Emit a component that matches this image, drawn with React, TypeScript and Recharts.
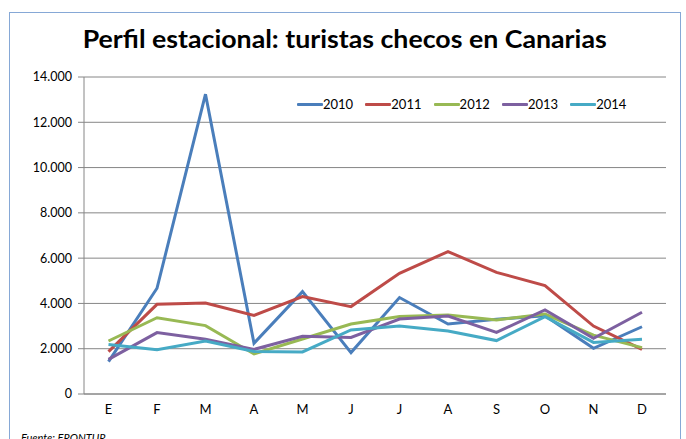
import { LineChart, Line, XAxis, YAxis, CartesianGrid, Legend } from 'recharts';

// Monthly Czech tourists in the Canary Islands
const months = ['E', 'F', 'M', 'A', 'M', 'J', 'J', 'A', 'S', 'O', 'N', 'D'];
const tourists2010 = [1430, 4670, 13240, 2240, 4520, 1830, 4260, 3090, 3300, 3460, 2020, 2970];
const tourists2011 = [1870, 3960, 4020, 3470, 4300, 3860, 5330, 6290, 5370, 4790, 3000, 1970];
const tourists2012 = [2340, 3370, 3020, 1770, 2430, 3090, 3420, 3490, 3270, 3530, 2600, 2050];
const tourists2013 = [1530, 2710, 2420, 1970, 2550, 2500, 3310, 3440, 2720, 3710, 2460, 3610];
const tourists2014 = [2190, 1960, 2340, 1880, 1860, 2830, 3000, 2780, 2360, 3420, 2280, 2420];
const yTicks = [0, 2000, 4000, 6000, 8000, 10000, 12000, 14000];

const series = [
  { key: 'y2010', name: '2010', color: '#4A7EBB', values: tourists2010 },
  { key: 'y2011', name: '2011', color: '#BE4B48', values: tourists2011 },
  { key: 'y2012', name: '2012', color: '#98B954', values: tourists2012 },
  { key: 'y2013', name: '2013', color: '#7D60A0', values: tourists2013 },
  { key: 'y2014', name: '2014', color: '#46AAC5', values: tourists2014 },
];

const data = months.map((month, i) => {
  const row: Record<string, string | number> = { month };
  series.forEach((s) => {
    row[s.key] = s.values[i];
  });
  return row;
});

const FONT = 'Lato, "Open Sans", sans-serif';
const GRID = '#868686';

const formatThousands = (v: number) => String(v).replace(/\B(?=(\d{3})+(?!\d))/g, '.');

function LegendRow() {
  return (
    <div style={{ display: 'flex', alignItems: 'center', fontFamily: FONT, fontSize: 13, color: '#000' }}>
      {series.map((s) => (
        <div key={s.key} style={{ display: 'flex', alignItems: 'center', width: 68.3 }}>
          <div style={{ width: 26, height: 3, backgroundColor: s.color, borderRadius: 1 }} />
          <span style={{ lineHeight: '16px' }}>{s.name}</span>
        </div>
      ))}
    </div>
  );
}

export default function App() {
  return (
    <div
      style={{
        position: 'fixed',
        left: 0,
        top: 0,
        width: 686,
        height: 439,
        overflow: 'hidden',
        background: '#fff',
      }}
    >
      {/* chart frame */}
      <div
        style={{
          position: 'absolute',
          left: 9,
          top: 12,
          width: 670,
          height: 460,
          border: '1px solid #86A8D6',
        }}
      />

      <LineChart
        width={686}
        height={439}
        data={data}
        margin={{ top: 77, right: 20, bottom: 15, left: 0 }}
        style={{ position: 'absolute', left: 0, top: 0 }}
      >
        <CartesianGrid vertical={false} stroke={GRID} strokeWidth={1} />
        <XAxis
          dataKey="month"
          height={30}
          padding={{ left: 24.5, right: 24 }}
          axisLine={{ stroke: GRID }}
          tickLine={false}
          tickSize={0}
          tickMargin={11}
          tick={{ fill: '#000', fontSize: 13, fontFamily: FONT }}
          interval={0}
        />
        <YAxis
          width={84}
          domain={[0, 14000]}
          ticks={yTicks}
          interval={0}
          tickFormatter={formatThousands}
          axisLine={{ stroke: GRID }}
          tickLine={{ stroke: GRID }}
          tickSize={6}
          tickMargin={6}
          tick={{ fill: '#000', fontSize: 12.5, fontFamily: FONT }}
        />
        <Legend
          layout="vertical"
          verticalAlign="middle"
          align="center"
          wrapperStyle={{ top: 96, left: 297, width: 'auto' }}
          content={() => <LegendRow />}
        />
        {series.map((s) => (
          <Line
            key={s.key}
            type="linear"
            dataKey={s.key}
            name={s.name}
            stroke={s.color}
            strokeWidth={3}
            dot={false}
            activeDot={false}
            isAnimationActive={false}
          />
        ))}
      </LineChart>

      {/* title and source note */}
      <svg
        width={686}
        height={439}
        style={{ position: 'absolute', left: 0, top: 0, pointerEvents: 'none' }}
      >
        <text
          x={344.7}
          y={48}
          textAnchor="middle"
          fontFamily={FONT}
          fontWeight={700}
          fontSize={24}
          textLength={524}
          lengthAdjust="spacingAndGlyphs"
          fill="#000"
        >
          Perfil estacional: turistas checos en Canarias
        </text>
        <text x={21} y={442} fontFamily={FONT} fontStyle="italic" fontSize={11} fill="#000">
          Fuente: FRONTUR
        </text>
      </svg>
    </div>
  );
}
